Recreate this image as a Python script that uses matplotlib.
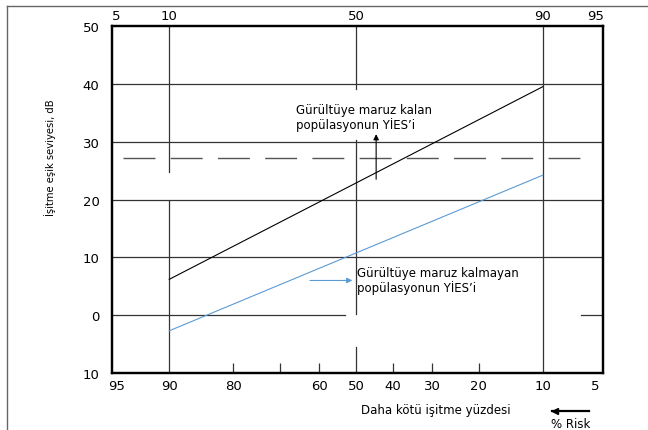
import numpy as np
import matplotlib.pyplot as plt
from matplotlib.lines import Line2D
from statistics import NormalDist

# Data
pct_ticks = [95, 90, 80, 60, 50, 40, 30, 20, 10, 5]
top_ticks = [95, 90, 50, 10, 5]
top_labels = ['5', '10', '50', '90', '95']
minor_ticks = [80, 70, 60, 40, 30, 20]
db_ticks = [-10, 0, 10, 20, 30, 40, 50]
db_labels = ['10', '0', '10', '20', '30', '40', '50']

exposed_pct = [90, 10]
exposed_db = [6.2, 39.5]
unexposed_pct = [90, 10]
unexposed_db = [-2.7, 24.2]
threshold_db = 27.1

# grid segments: (position, start, end)
h_grid = [(40, 95.3, 4.5), (30, 95.3, 4.5), (20, 95.3, 4.5), (10, 95.3, 4.5),
          (0, 95.3, 53), (0, 6.1, 4.5)]
v_grid = [(90, -10, 19.8), (90, 24.7, 50),
          (50, -10, -5.5), (50, 0.2, 30.3), (50, 39.1, 50),
          (10, -10, 50)]

_nd = NormalDist()


def to_z(p):
    p = np.clip(np.asarray(p, dtype=float), 1e-4, 100 - 1e-4)
    return np.vectorize(lambda v: _nd.inv_cdf(v / 100), otypes=[float])(p)


def from_z(z):
    z = np.asarray(z, dtype=float)
    return np.vectorize(lambda v: 100 * _nd.cdf(v), otypes=[float])(z)


fig = plt.figure(figsize=(6.48, 4.31), dpi=100)
ax = fig.add_axes([112 / 648, 1 - 374 / 431, 491 / 648, 347 / 431])
ax.set_xscale('function', functions=(to_z, from_z))
ax.set_xlim(95.3, 4.5)
ax.set_ylim(-10, 50)

grid_kw = dict(color='#333333', lw=0.9, zorder=1)
for y, x0, x1 in h_grid:
    ax.plot([x0, x1], [y, y], **grid_kw)
for x, y0, y1 in v_grid:
    ax.plot([x, x], [y0, y1], **grid_kw)

ax.plot([94.5, 5.2], [threshold_db, threshold_db], color='#555555', lw=1.0,
        linestyle=(0, (23, 11)), zorder=2)

ax.plot(exposed_pct, exposed_db, color='black', lw=0.8, zorder=3)
ax.plot(unexposed_pct, unexposed_db, color='#5b9bd5', lw=0.8, zorder=3)

# arrows and notes
ax.annotate('', xy=(44.5, 31.3), xytext=(44.5, 23.5),
            arrowprops=dict(arrowstyle='-|>', color='black', lw=0.8,
                            mutation_scale=8, shrinkA=0, shrinkB=0))
ax.annotate('', xy=(51, 6.0), xytext=(62.4, 6.0),
            arrowprops=dict(arrowstyle='-|>', color='#5b9bd5', lw=0.8,
                            mutation_scale=8, shrinkA=0, shrinkB=0))
note_kw = dict(fontsize=8.5, family='DejaVu Sans', linespacing=1.1,
               ha='left', va='center', zorder=4)
ax.text(66, 34.3, 'Gürültüye maruz kalan\npopülasyonun YİES’i', **note_kw)
ax.text(49.6, 6.0, 'Gürültüye maruz kalmayan\npopülasyonun YİES’i', **note_kw)

# ticks
ax.set_xticks(pct_ticks, [str(v) for v in pct_ticks])
ax.set_xticks(minor_ticks, minor=True)
ax.xaxis.set_minor_formatter(plt.NullFormatter())
ax.xaxis.remove_overlapping_locs = False
ax.tick_params(axis='x', which='major', length=0, pad=4, labelsize=9.5)
ax.tick_params(axis='x', which='minor', direction='in', length=7,
               width=0.9, color='#333333')
ax.set_yticks(db_ticks, db_labels)
ax.tick_params(axis='y', length=0, pad=9, labelsize=9.5)

# top scale: same positions, complementary percentages
top = ax.twiny()
top.set_xscale('function', functions=(to_z, from_z))
top.set_xlim(ax.get_xlim())
top.set_xticks(top_ticks, top_labels)
top.set_xticks([], minor=True)
top.tick_params(axis='x', length=0, pad=3, labelsize=9.5)

for a in (ax, top):
    for s in a.spines.values():
        s.set_linewidth(1.6)

# axis titles
fig.text(50 / 648, 1 - 158 / 431, 'İşitme eşik seviyesi, dB', rotation=90,
         ha='center', va='center', fontsize=8,
         family=['Liberation Sans Narrow', 'DejaVu Sans'], fontstretch='condensed')
fig.text(436 / 648, 1 - 411 / 431, 'Daha kötü işitme yüzdesi', ha='center',
         va='center', fontsize=8.5)
fig.text(571 / 648, 1 - 425 / 431, '% Risk', ha='center', va='center',
         fontsize=8.5)
fig.add_artist(Line2D([589 / 648, 552 / 648], [1 - 412 / 431, 1 - 412 / 431],
                      transform=fig.transFigure, color='black', lw=1.6))
fig.add_artist(Line2D([555 / 648], [1 - 412 / 431], transform=fig.transFigure,
                      marker='<', color='black', markersize=4))

# thin frame around the picture
fig.add_artist(Line2D([7 / 648, 7 / 648], [0, 1 - 7 / 431],
                      transform=fig.transFigure, color='#666666', lw=1))
fig.add_artist(Line2D([7 / 648, 1], [1 - 7 / 431, 1 - 7 / 431],
                      transform=fig.transFigure, color='#666666', lw=1))

fig.savefig('out.png', dpi=100)
